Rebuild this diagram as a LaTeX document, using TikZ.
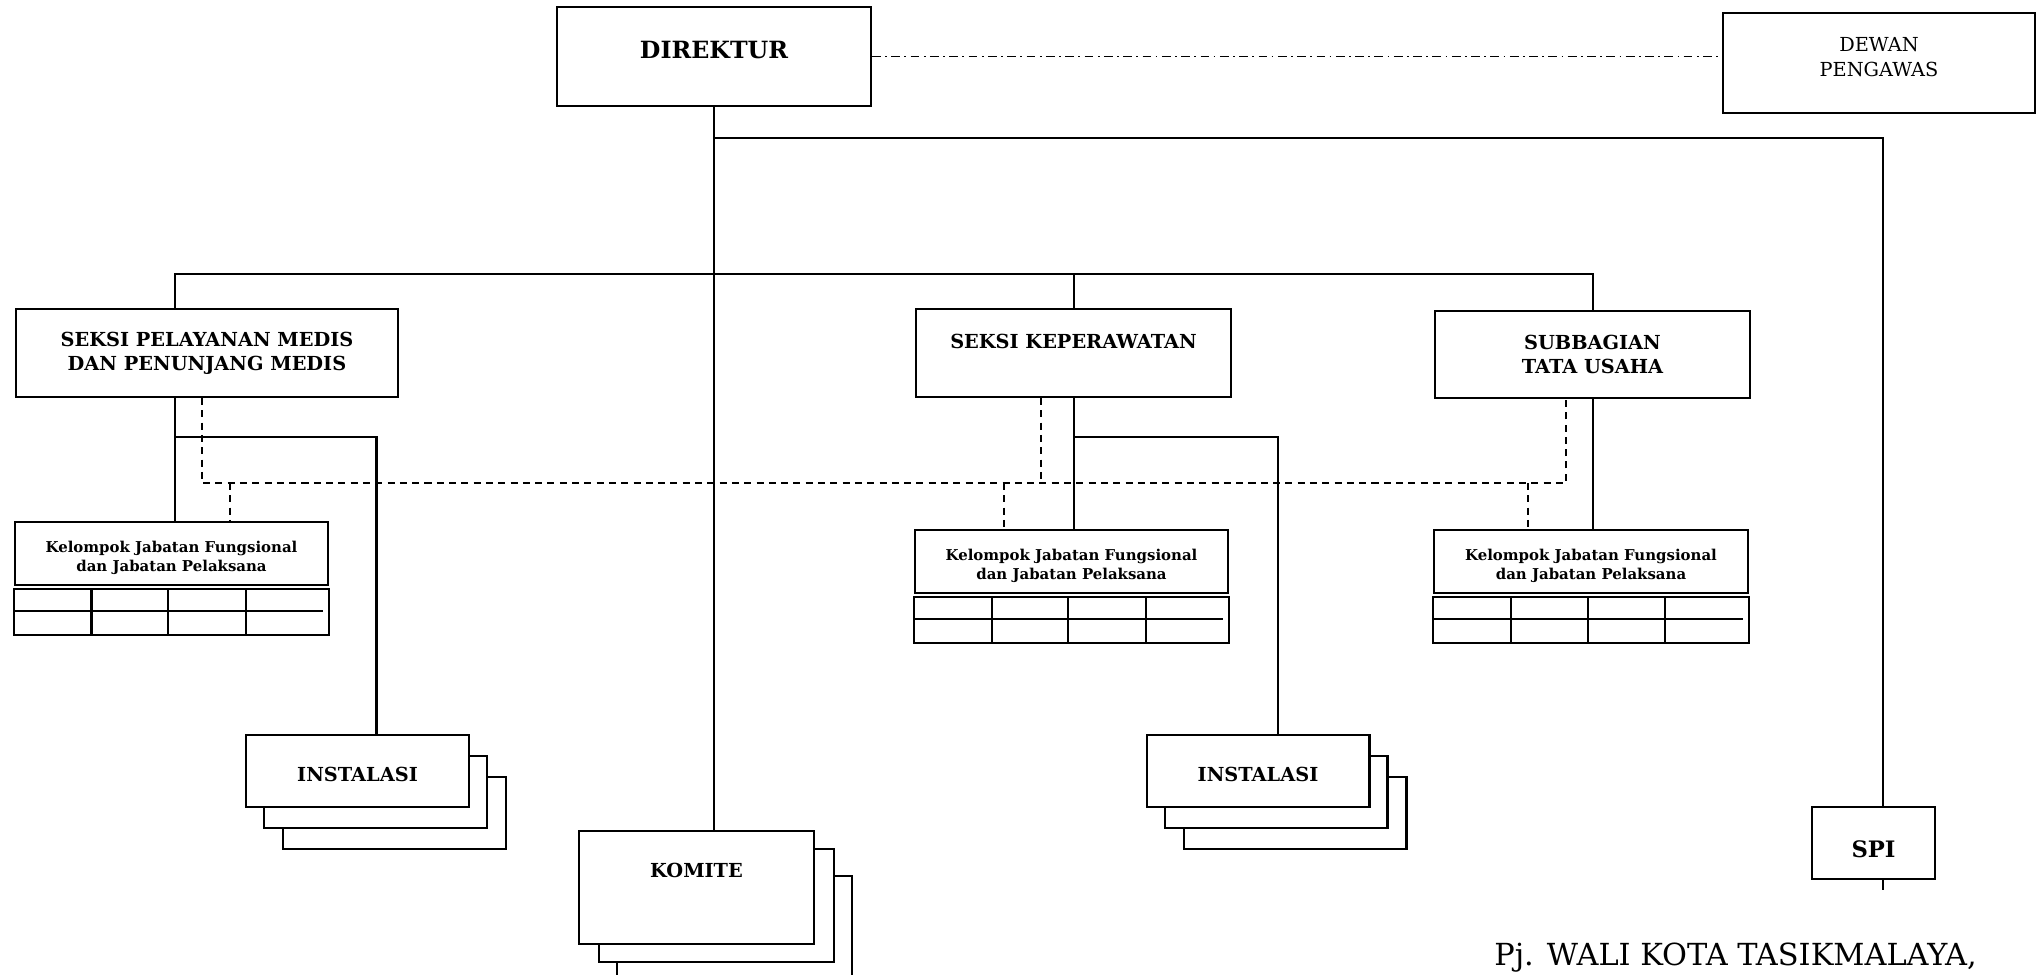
\documentclass[tikz,border=0pt]{standalone}
\usepackage{fontspec}
\setmainfont{DejaVu Serif}
\usepackage{tikz}
\usetikzlibrary{calc}

\tikzset{
  box/.style={draw, line width=1.15pt, align=center, inner sep=0pt, fill=white},
  bigbox/.style={box, font=\bfseries\fontsize{11}{14}\selectfont},
  secbox/.style={box, font=\bfseries\fontsize{11}{13.7}\selectfont},
  kjfbox/.style={box, font=\bfseries\fontsize{8.5}{10.8}\selectfont, minimum width=6.26cm, minimum height=1.26cm, text height=21.7pt},
  instbox/.style={bigbox, minimum width=4.46cm, minimum height=1.44cm, text height=12.4pt, text depth=0pt},
  kombox/.style={bigbox, minimum width=4.70cm, minimum height=2.26cm, text height=7.95pt, text depth=18.8pt},
  line/.style={line width=1.15pt},
  koord/.style={line width=1.1pt, dash pattern=on 4pt off 3pt},
  awas/.style={line width=0.9pt, dash pattern=on 5pt off 2.5pt on 1pt off 2.5pt}
}

\begin{document}
\begin{tikzpicture}[x=0.02cm, y=-0.02cm]
  \useasboundingbox (0,0) rectangle (2042,974);
  \clip (0,0) rectangle (2042,974);

  \node[box, font=\bfseries\fontsize{13.5}{16}\selectfont, text height=9.8pt, text depth=7.4pt, minimum width=6.28cm, minimum height=1.98cm] (dir) at (714,56.5) {DIREKTUR};
  \node[box, font=\fontsize{11}{14.2}\selectfont, text depth=6.5pt, minimum width=6.24cm, minimum height=2cm] (dewan) at (1879,63) {DEWAN\\PENGAWAS};

  \node[secbox, minimum width=7.64cm, minimum height=1.76cm] (spm) at (207,353) {SEKSI PELAYANAN MEDIS\\DAN PENUNJANG MEDIS};
  \node[secbox, minimum width=6.30cm, minimum height=1.76cm] (kep) at (1073.5,353) {SEKSI KEPERAWATAN\\\mbox{}};
  \node[secbox, minimum width=6.30cm, minimum height=1.74cm] (tu) at (1592.5,354.5) {SUBBAGIAN\\TATA USAHA};

  \node[kjfbox] (kjf1) at (171.5,553.5) {Kelompok Jabatan Fungsional\\dan Jabatan Pelaksana};
  \node[kjfbox] (kjf2) at (1071.5,561.5) {Kelompok Jabatan Fungsional\\dan Jabatan Pelaksana};
  \node[kjfbox, minimum width=6.28cm] (kjf3) at (1591,561.5) {Kelompok Jabatan Fungsional\\dan Jabatan Pelaksana};

  \node[instbox] (inst1c) at (394.5,813) {};
  \node[instbox] (inst1b) at (375.5,792) {};
  \node[instbox] (inst1) at (357.5,771) {INSTALASI};
  \node[instbox] (inst2c) at (1295,813) {};
  \node[instbox] (inst2b) at (1276,792) {};
  \node[instbox] (inst2) at (1258,771) {INSTALASI};

  \node[kombox] (komc) at (734.5,932.5) {};
  \node[kombox] (komb) at (716.5,905.5) {};
  \node[kombox] (kom) at (696.5,887.5) {KOMITE};

  \node[box, font=\bfseries\fontsize{12.9}{15}\selectfont, text height=16.8pt, text depth=0pt, minimum width=2.46cm, minimum height=1.44cm] (spi) at (1873.5,843) {SPI};

  \node[anchor=base west, inner sep=0pt, font=\fontsize{17.3}{21}\selectfont] (pj) at (1494,965) {Pj. WALI KOTA TASIKMALAYA,};

  \foreach \k in {1,2,3}{
    \coordinate (tl) at ([yshift=-0.06cm]kjf\k.south west);
    \coordinate (tr) at ([yshift=-0.06cm]kjf\k.south east);
    \draw[line] (tl) rectangle ([yshift=-0.92cm]tr);
    \draw[line] ([yshift=-0.44cm]tl) -- ([yshift=-0.44cm,xshift=-0.12cm]tr);
    \foreach \f in {0.246,0.489,0.735}
      \draw[line] ($(tl)!\f!(tr)$) -- ++(0,-0.92cm);
  }

  \coordinate (b1) at (175,274);
  \coordinate (s1) at (175,437);
  \draw[awas] (dir.east) -- (dir.east -| dewan.west);
  \draw[line] (dir.south) -- (dir.south |- kom.north);
  \draw[line] ([yshift=-0.62cm]dir.south) -| ([xshift=0.19cm]spi.north);
  \draw[line] ([xshift=0.19cm]spi.south) -- ++(0,-0.2cm);
  \draw[line] (b1 |- spm.north) -- (b1) -| (tu.north);
  \draw[line] (kep.north) -- (kep.north |- b1);

  \draw[line] (b1 |- spm.south) -- (b1 |- kjf1.north);
  \draw[line] (s1) -| ([xshift=0.38cm]inst1.north);
  \draw[line] (kep.south) -- (kep.south |- kjf2.north);
  \draw[line] (kep.south |- s1) -| ([xshift=0.4cm]inst2.north);
  \draw[line] (tu.south) -- (tu.south |- kjf3.north);

  \coordinate (dl) at (202,483);
  \coordinate (dr) at (1566,483);
  \coordinate (dk) at (1041,483);
  \draw[koord] (dl |- spm.south) -- (dl) -- (dr) -- (dr |- tu.south);
  \draw[koord] (dk |- kep.south) -- (dk);
  \foreach \x/\n in {230/1,1004/2,1528/3}{
    \coordinate (j\n) at (\x,483);
    \draw[koord] (j\n) -- (j\n |- kjf\n.north);
  }
\end{tikzpicture}
\end{document}
